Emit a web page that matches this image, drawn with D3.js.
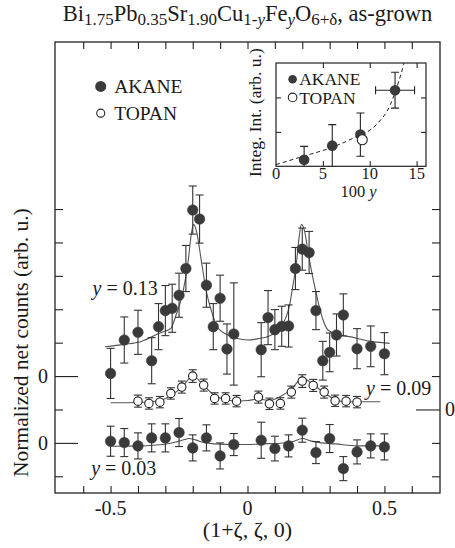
<!DOCTYPE html>
<html>
<head>
<meta charset="utf-8">
<script src="https://cdn.jsdelivr.net/npm/d3@7/dist/d3.min.js"></script>
<style>
body { margin: 0; background: #fff; }
text { font-family: "Liberation Serif", "DejaVu Serif", serif; fill: #1a1a1a; }
</style>
</head>
<body>
<div id="chart"></div>
<script>
// y = 0.13, AKANE (offset 2 ticks)
var zeta13 = [-0.5,-0.45,-0.4,-0.35,-0.325,-0.3,-0.275,-0.25,-0.225,-0.2,-0.175,-0.15,-0.125,-0.1,-0.075,-0.05,
              0.05,0.075,0.1,0.125,0.15,0.175,0.2,0.225,0.25,0.275,0.3,0.325,0.35,0.4,0.45,0.5];
var cnt13 = [0.08,1.08,1.31,0.46,1.48,1.96,2.03,2.42,3.22,4.97,4.70,2.72,1.48,2.33,0.81,1.26,
             0.79,1.75,1.39,1.49,1.50,3.22,3.80,3.70,1.96,0.46,0.71,1.23,1.83,0.82,0.89,0.67];
var err13 = [0.75,0.69,0.66,0.69,0.69,0.75,0.72,0.66,0.69,0.72,0.72,0.66,0.69,0.69,0.75,1.53,
             0.81,0.81,0.6,0.6,0.63,0.63,0.63,0.63,0.57,0.58,0.58,0.63,0.63,0.6,0.61,0.63];
var fit13 = [[-0.52,0.88],[-0.45,0.95],[-0.39,1.03],[-0.32,1.29],[-0.28,1.43],[-0.26,1.85],[-0.241,2.33],
             [-0.228,2.85],[-0.217,3.42],[-0.204,4.32],[-0.196,4.54],[-0.186,4.32],[-0.168,3.42],[-0.15,2.52],
             [-0.131,1.93],[-0.107,1.43],[-0.07,1.22],[-0.04,1.13],[0,1.08],[0.04,1.12],[0.08,1.2],[0.12,1.45],
             [0.14,1.75],[0.154,2.13],[0.166,2.72],[0.179,3.42],[0.188,4.12],[0.197,4.54],[0.209,4.32],
             [0.221,3.72],[0.239,2.93],[0.258,2.22],[0.275,1.7],[0.294,1.38],[0.33,1.25],[0.373,1.18],
             [0.458,1.03],[0.519,0.98]];

// y = 0.09, TOPAN (offset 1 tick)
var zeta09 = [-0.40,-0.36,-0.32,-0.28,-0.24,-0.20,-0.16,-0.12,-0.08,-0.04,
              0.04,0.08,0.12,0.16,0.20,0.24,0.28,0.32,0.36,0.40];
var cnt09 = [0.25,0.18,0.22,0.48,0.67,1.00,0.73,0.33,0.33,0.25,
             0.37,0.17,0.18,0.52,0.85,0.72,0.52,0.26,0.25,0.22];
var err09 = [0.18,0.17,0.17,0.17,0.18,0.19,0.18,0.17,0.17,0.17,
             0.18,0.17,0.17,0.18,0.19,0.18,0.18,0.17,0.17,0.17];
var fit09 = [[-0.5,0.2],[-0.4,0.21],[-0.32,0.27],[-0.28,0.42],[-0.24,0.66],[-0.2,1.0],[-0.16,0.72],
             [-0.12,0.42],[-0.08,0.3],[-0.04,0.25],[0,0.27],[0.04,0.31],[0.08,0.27],[0.12,0.39],[0.16,0.6],
             [0.2,0.94],[0.24,0.75],[0.28,0.5],[0.32,0.3],[0.36,0.23],[0.485,0.23]];

// y = 0.03, AKANE (offset 0)
var zeta03 = [-0.5,-0.45,-0.4,-0.35,-0.3,-0.25,-0.2,-0.15,-0.1,-0.05,
              0.05,0.1,0.15,0.2,0.25,0.3,0.35,0.4,0.45,0.5];
var cnt03 = [0.05,0.01,-0.09,0.15,0.15,0.31,-0.15,0.15,-0.39,-0.05,
             0.08,-0.17,-0.09,0.38,-0.29,0.13,-0.77,-0.27,-0.09,-0.12];
var err03 = [0.45,0.42,0.39,0.42,0.42,0.42,0.39,0.39,0.39,0.33,
             0.54,0.37,0.33,0.36,0.33,0.42,0.36,0.36,0.36,0.39];
var fit03 = [[-0.5,-0.1],[-0.4,-0.09],[-0.3,-0.04],[-0.26,0.03],[-0.23,0.1],[-0.215,0.13],[-0.19,0.09],
             [-0.16,0.01],[-0.12,-0.03],[-0.05,-0.05],[0,-0.05],[0.05,-0.03],[0.12,-0.01],[0.17,0.05],
             [0.2,0.13],[0.23,0.06],[0.27,0.0],[0.32,-0.03],[0.4,-0.09],[0.5,-0.09]];

// inset: integrated intensity vs 100y
var insetAkaneY = [3, 6, 9, 12.7];
var insetAkaneI = [0.19, 0.6, 0.92, 2.21];
var insetAkaneErr = [0.39, 0.61, 0.63, 0.52];
var insetAkaneXErr = [0, 0, 0, 2.08];
var insetTopanY = [9.2];
var insetTopanI = [0.77];
var insetGuide = [[0,0.05],[2.9,0.29],[5.76,0.53],[8.24,0.82],[10.7,1.21],[12.2,1.79],[13.1,2.47],[13.6,2.95],[13.8,3.2]];

var xTickLabels = ["-0.5", "0", "0.5"];
var xTickValues = [-0.5, 0, 0.5];
var yTicks = [-1,0,1,2,3,4,5,6,7];

var W = 455, H = 548;
var margin = {top: 42, right: 15, bottom: 55, left: 55},
    width = W - margin.left - margin.right,
    height = H - margin.top - margin.bottom;

var svg = d3.select("#chart").append("svg")
    .attr("width", W).attr("height", H);
var g = svg.append("g")
    .attr("transform", "translate(" + margin.left + "," + margin.top + ")");

var x = d3.scaleLinear().domain([-0.703, 0.703]).range([0, width]);
var y = d3.scaleLinear().domain([-1.5, 12]).range([height, 0]);

var dark = "#3a3a3a";

// frame
g.append("rect")
    .attr("width", width).attr("height", height)
    .attr("fill", "none").attr("stroke", "#222").attr("stroke-width", 1.3);

// axes, ticks pointing in
var tickX = d3.range(-6, 7).map(function(d) { return d / 10; });
g.append("g").attr("class", "x axis")
    .attr("transform", "translate(0," + height + ")")
    .call(d3.axisBottom(x).tickValues(tickX).tickSize(-7).tickFormat(""));
g.append("g").attr("class", "x axis top")
    .call(d3.axisTop(x).tickValues(tickX).tickSize(-7).tickFormat(""));
g.append("g").attr("class", "y axis left")
    .call(d3.axisLeft(y).tickValues(yTicks).tickSize(-8).tickFormat(""));
g.append("g").attr("class", "y axis right")
    .attr("transform", "translate(" + width + ",0)")
    .call(d3.axisRight(y).tickValues(yTicks).tickSize(-8).tickFormat(""));

g.selectAll(".axis path.domain").remove();
g.selectAll(".axis line").attr("stroke", "#222").attr("stroke-width", 1.1);

// long ticks at the zero of each set
g.select(".y.axis.left").selectAll("line")
    .attr("x2", function(d) { return (d === 0 || d === 2) ? 23 : 8; });
g.select(".y.axis.right").selectAll("line")
    .attr("x2", function(d) { return d === 1 ? -24 : -8; });

// x tick labels
g.selectAll(".xlab").data(xTickValues).enter().append("text")
    .attr("x", function(d) { return x(d); }).attr("y", height + 22)
    .attr("text-anchor", "middle").style("font-size", "20px")
    .text(function(d, i) { return xTickLabels[i]; });

g.append("text").attr("x", -12).attr("y", y(2)).attr("dy", "0.35em")
    .attr("text-anchor", "middle").style("font-size", "20px").text("0");
g.append("text").attr("x", -12).attr("y", y(0)).attr("dy", "0.35em")
    .attr("text-anchor", "middle").style("font-size", "20px").text("0");
g.append("text").attr("x", width + 10).attr("y", y(1)).attr("dy", "0.35em")
    .attr("text-anchor", "middle").style("font-size", "20px").text("0");

// axis labels
g.append("text").attr("x", x(0)).attr("y", height + 44)
    .attr("text-anchor", "middle").style("font-size", "22px").text("(1+ζ, ζ, 0)");
g.append("text")
    .attr("transform", "translate(-27," + y(3) + ") rotate(-90)")
    .attr("text-anchor", "middle").style("font-size", "21.5px")
    .text("Normalized net counts (arb. u.)");

// title
var title = svg.append("text").attr("x", 247.5).attr("y", 21)
    .attr("text-anchor", "middle").style("font-size", "22.5px");
var parts = [["Bi",0],["1.75",1],["Pb",0],["0.35",1],["Sr",0],["1.90",1],["Cu",0],["1-",1],["y",3],
             ["Fe",0],["y",3],["O",0],["6+δ",1],[", as-grown",0]];
var prevSub = false;
parts.forEach(function(p) {
    var sub = p[1] > 0;
    var t = title.append("tspan").text(p[0]);
    if (sub) t.style("font-size", "17px");
    if (p[1] === 3) t.style("font-style", "italic");
    if (sub && !prevSub) t.attr("dy", 4);
    if (!sub && prevSub) t.attr("dy", -4);
    prevSub = sub;
});

// draw a data set
function drawSet(zs, vs, es, fit, offset, open) {
    var lay = g.append("g");
    lay.append("path")
        .datum(fit)
        .attr("fill", "none").attr("stroke", "#555").attr("stroke-width", 1.1)
        .attr("d", d3.line()
            .curve(d3.curveMonotoneX)
            .x(function(d) { return x(d[0]); })
            .y(function(d) { return y(d[1] + offset); }));

    var pts = zs.map(function(z, i) { return {z: z, v: vs[i], e: es[i]}; });
    var eb = lay.selectAll(".eb").data(pts).enter().append("g")
        .attr("stroke", "#333").attr("stroke-width", 1.1);
    eb.append("line")
        .attr("x1", function(d) { return x(d.z); }).attr("x2", function(d) { return x(d.z); })
        .attr("y1", function(d) { return y(d.v + offset - d.e); })
        .attr("y2", function(d) { return y(d.v + offset + d.e); });
    [-1, 1].forEach(function(s) {
        eb.append("line")
            .attr("x1", function(d) { return x(d.z) - 4; }).attr("x2", function(d) { return x(d.z) + 4; })
            .attr("y1", function(d) { return y(d.v + offset + s * d.e); })
            .attr("y2", function(d) { return y(d.v + offset + s * d.e); });
    });
    lay.selectAll(".dot").data(pts).enter().append("circle")
        .attr("cx", function(d) { return x(d.z); })
        .attr("cy", function(d) { return y(d.v + offset); })
        .attr("r", open ? 4.2 : 5.3)
        .attr("fill", open ? "#fff" : dark)
        .attr("stroke", open ? "#222" : dark)
        .attr("stroke-width", open ? 1.1 : 0.5);
}

drawSet(zeta03, cnt03, err03, fit03, 0, false);
drawSet(zeta09, cnt09, err09, fit09, 1, true);
drawSet(zeta13, cnt13, err13, fit13, 2, false);

// set labels
function setLabel(tx, ty, val) {
    var t = g.append("text").attr("x", tx).attr("y", ty).style("font-size", "20px");
    t.append("tspan").style("font-style", "italic").text("y");
    t.append("tspan").text(" = " + val);
}
setLabel(x(-0.566), y(4.43), "0.13");
setLabel(x(0.433), y(1.43), "0.09");
setLabel(x(-0.571), y(-0.96), "0.03");

// main legend
var leg = g.append("g");
leg.append("circle").attr("cx", x(-0.536)).attr("cy", y(10.67)).attr("r", 5.5).attr("fill", dark);
leg.append("circle").attr("cx", x(-0.536)).attr("cy", y(9.87)).attr("r", 4).attr("fill", "#fff")
    .attr("stroke", "#222").attr("stroke-width", 1.1);
leg.append("text").attr("x", x(-0.487)).attr("y", y(10.67)).attr("dy", "0.35em")
    .style("font-size", "19.5px").text("AKANE");
leg.append("text").attr("x", x(-0.487)).attr("y", y(9.87)).attr("dy", "0.35em")
    .style("font-size", "19.5px").text("TOPAN");

// inset
var ins = {left: 276, top: 63, width: 150, height: 103.3};
var ig = svg.append("g").attr("transform", "translate(" + ins.left + "," + ins.top + ")");
var ix = d3.scaleLinear().domain([0, 16]).range([0, ins.width]);
var iy = d3.scaleLinear().domain([0, 3]).range([ins.height, 0]);

ig.append("clipPath").attr("id", "iclip").append("rect")
    .attr("width", ins.width).attr("height", ins.height);
ig.append("rect").attr("width", ins.width).attr("height", ins.height)
    .attr("fill", "#fff").attr("stroke", "#222").attr("stroke-width", 1.2);

ig.append("g").attr("class", "iaxis")
    .attr("transform", "translate(0," + ins.height + ")")
    .call(d3.axisBottom(ix).tickValues([5, 10, 15]).tickSize(-5).tickFormat(""));
ig.append("g").attr("class", "iaxis")
    .call(d3.axisTop(ix).tickValues([5, 10, 15]).tickSize(-5).tickFormat(""));
ig.append("g").attr("class", "iaxis")
    .call(d3.axisLeft(iy).tickValues([1, 2]).tickSize(-5).tickFormat(""));
ig.append("g").attr("class", "iaxis")
    .attr("transform", "translate(" + ins.width + ",0)")
    .call(d3.axisRight(iy).tickValues([1, 2]).tickSize(-5).tickFormat(""));
ig.selectAll(".iaxis path.domain").remove();
ig.selectAll(".iaxis line").attr("stroke", "#222").attr("stroke-width", 1.1);

ig.selectAll(".ixlab").data([0, 5, 10, 15]).enter().append("text")
    .attr("x", function(d) { return ix(d); }).attr("y", ins.height + 12.5)
    .attr("text-anchor", "middle").style("font-size", "16.5px")
    .text(function(d) { return d; });

ig.append("path").datum(insetGuide)
    .attr("clip-path", "url(#iclip)")
    .attr("fill", "none").attr("stroke", "#222").attr("stroke-width", 1)
    .attr("stroke-dasharray", "4,3")
    .attr("d", d3.line().curve(d3.curveMonotoneX)
        .x(function(d) { return ix(d[0]); }).y(function(d) { return iy(d[1]); }));

var ipts = insetAkaneY.map(function(v, i) {
    return {x: v, v: insetAkaneI[i], e: insetAkaneErr[i], xe: insetAkaneXErr[i]};
});
var ieb = ig.append("g").attr("clip-path", "url(#iclip)").attr("stroke", "#222").attr("stroke-width", 1.1);
ipts.forEach(function(d) {
    ieb.append("line").attr("x1", ix(d.x)).attr("x2", ix(d.x))
        .attr("y1", iy(d.v - d.e)).attr("y2", iy(d.v + d.e));
    [-1, 1].forEach(function(s) {
        ieb.append("line").attr("x1", ix(d.x) - 4).attr("x2", ix(d.x) + 4)
            .attr("y1", iy(d.v + s * d.e)).attr("y2", iy(d.v + s * d.e));
    });
    if (d.xe > 0) {
        ieb.append("line").attr("x1", ix(d.x - d.xe)).attr("x2", ix(d.x + d.xe))
            .attr("y1", iy(d.v)).attr("y2", iy(d.v));
        [-1, 1].forEach(function(s) {
            ieb.append("line").attr("x1", ix(d.x + s * d.xe)).attr("x2", ix(d.x + s * d.xe))
                .attr("y1", iy(d.v) - 4).attr("y2", iy(d.v) + 4);
        });
    }
});
ig.selectAll(".idot").data(ipts).enter().append("circle")
    .attr("cx", function(d) { return ix(d.x); }).attr("cy", function(d) { return iy(d.v); })
    .attr("r", 5.3).attr("fill", dark);
ig.selectAll(".itop").data(insetTopanY).enter().append("circle")
    .attr("cx", function(d) { return ix(d); }).attr("cy", function(d, i) { return iy(insetTopanI[i]); })
    .attr("r", 5).attr("fill", "#fff").attr("stroke", "#222").attr("stroke-width", 1.1);

// inset legend
ig.append("circle").attr("cx", ix(1.77)).attr("cy", iy(2.53)).attr("r", 4.3).attr("fill", dark);
ig.append("circle").attr("cx", ix(1.77)).attr("cy", iy(2.0)).attr("r", 4.3).attr("fill", "#fff")
    .attr("stroke", "#222").attr("stroke-width", 1.1);
ig.append("text").attr("x", ix(2.47)).attr("y", iy(2.53)).attr("dy", "0.35em")
    .style("font-size", "17.5px").text("AKANE");
ig.append("text").attr("x", ix(2.47)).attr("y", iy(2.0)).attr("dy", "0.35em")
    .style("font-size", "17.5px").text("TOPAN");

// inset labels
var il = ig.append("text").attr("x", ix(8.8)).attr("y", ins.height + 31)
    .attr("text-anchor", "middle").style("font-size", "16.5px");
il.append("tspan").text("100 ");
il.append("tspan").style("font-style", "italic").text("y");
ig.append("text")
    .attr("transform", "translate(-15," + (ins.height / 2 - 2) + ") rotate(-90)")
    .attr("text-anchor", "middle").style("font-size", "17.5px")
    .text("Integ. Int. (arb. u.)");
</script>
</body>
</html>
